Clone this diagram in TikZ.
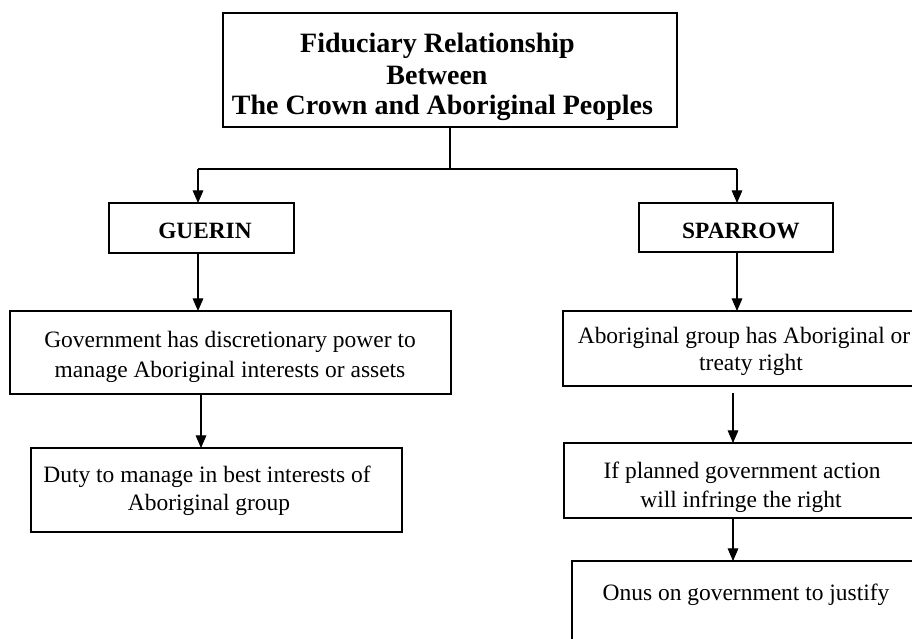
\documentclass[tikz,border=0pt]{standalone}
\usepackage{fontspec}
\setmainfont{Liberation Serif}
\usetikzlibrary{fit,arrows.meta}
\begin{document}
\begin{tikzpicture}[x=0.75pt,y=-0.75pt,
  box/.style={draw=black, line width=0.8pt, inner sep=0pt, outer sep=0pt, rectangle},
  body/.style={font=\fontsize{17.6pt}{21.75pt}\selectfont, inner sep=0pt, anchor=base},
  bodyb/.style={font=\fontsize{17.5pt}{21.75pt}\selectfont\bfseries, inner sep=0pt, anchor=base},
  ttl/.style={font=\fontsize{21pt}{23.25pt}\selectfont\bfseries, inner sep=0pt, anchor=base},
  arr/.style={draw=black, line width=0.8pt, -{Triangle[length=9.5pt,width=8pt]}},
  ln/.style={draw=black, line width=0.8pt}]
\useasboundingbox (0,0) rectangle (912,638);
\clip (0,0) rectangle (912,638);
\fill[white] (0,0) rectangle (912,638);

% boxes
\node[box, fit={(223,13) (677,127)}] (T) {};
\node[box, fit={(109,203) (294,253)}] (G) {};
\node[box, fit={(639,203) (833,252)}] (S) {};
\node[box, fit={(10,311) (451,394)}] (Gov) {};
\node[box, fit={(31,448) (402,532)}] (Duty) {};
\node[box, fit={(563,311) (930,386)}] (Ab) {};
\node[box, fit={(564,443) (925,518)}] (If) {};
\node[box, fit={(572,561) (920,700)}] (Onus) {};

% texts
\node[ttl] (t1) at (437.5,53) {Fiduciary Relationship};
\node[ttl] (t2) at (437,85) {Between};
\node[ttl] (t3) at (442.5,115) {The Crown and Aboriginal Peoples};
\node[bodyb] (gt) at (205,238) {GUERIN};
\node[bodyb] (st) at (741,238) {SPARROW};
\node[body] (g1) at (230,347) {Government has discretionary power to};
\node[body] (g2) at (230,377) {manage Aboriginal interests or assets};
\node[body] (d1) at (207,482) {Duty to manage in best interests of};
\node[body] (d2) at (209,510) {Aboriginal group};
\node[body] (a1) at (744,343) {Aboriginal group has Aboriginal or};
\node[body] (a2) at (751,370) {treaty right};
\node[body] (i1) at (742,478) {If planned government action};
\node[body] (i2) at (741,507) {will infringe the right};
\node[body] (o1) at (746,600) {Onus on government to justify};

% connectors
\coordinate (j) at (450,169);
\coordinate (jl) at (198,169);
\coordinate (jr) at (737,169);
\coordinate (xg) at (201,0);
\coordinate (xs) at (733,0);
\draw[ln] (T.south -| j) -- (j);
\draw[ln] (jl) -- (jr);
\draw[arr] (jl) -- (G.north -| jl);
\draw[arr] (jr) -- (S.north -| jr);
\draw[arr] (G.south -| jl) -- (Gov.north -| jl);
\draw[arr] (Gov.south -| xg) -- (Duty.north -| xg);
\draw[arr] (S.south -| jr) -- (Ab.north -| jr);
\draw[arr, shorten <=5.25pt] (Ab.south -| xs) -- (If.north -| xs);
\draw[arr] (If.south -| xs) -- (Onus.north -| xs);
\end{tikzpicture}
\end{document}
